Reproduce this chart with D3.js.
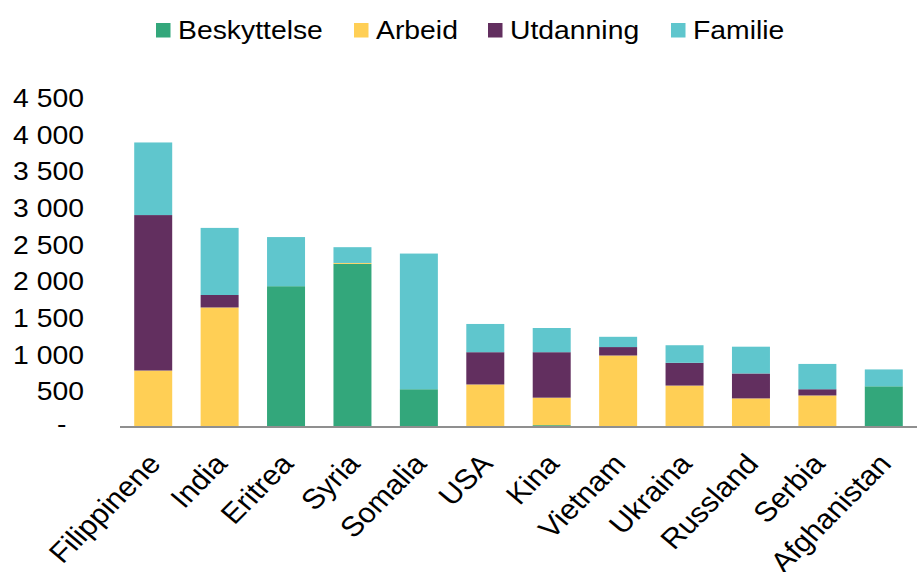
<!DOCTYPE html>
<html>
<head>
<meta charset="utf-8">
<script src="https://cdn.jsdelivr.net/npm/d3@7"></script>
<style>
  body { margin: 0; background: #fff; }
  text { font-family: "Liberation Sans", Arial, sans-serif; fill: #000; }
</style>
</head>
<body>
<script>
// data
const countries = ["Filippinene", "India", "Eritrea", "Syria", "Somalia", "USA", "Kina", "Vietnam", "Ukraina", "Russland", "Serbia", "Afghanistan"];
const seriesNames = ["Beskyttelse", "Arbeid", "Utdanning", "Familie"];
const beskyttelse = [0, 0, 1920, 2225, 515, 0, 25, 0, 0, 10, 0, 555];
const arbeid = [770, 1630, 0, 12, 0, 580, 375, 975, 565, 380, 430, 0];
const utdanning = [2120, 170, 0, 0, 0, 440, 620, 115, 310, 340, 85, 0];
const familie = [990, 915, 670, 215, 1850, 385, 330, 140, 240, 365, 345, 230];
const yTicks = [0, 500, 1000, 1500, 2000, 2500, 3000, 3500, 4000, 4500];
const colors = ["#33a77b", "#ffcf55", "#622f5f", "#5fc6cd"];

const W = 917, H = 572;
const sx = 1.09; // the original text is a bit stretched sideways

const svg = d3.select("body").append("svg")
  .attr("width", W).attr("height", H);

// everything drawn in a horizontally stretched group
const g = svg.append("g").attr("transform", `scale(${sx},1)`);

const table = countries.map((c, i) => ({
  country: c,
  Beskyttelse: beskyttelse[i],
  Arbeid: arbeid[i],
  Utdanning: utdanning[i],
  Familie: familie[i]
}));
const stacked = d3.stack().keys(seriesNames)(table);

const x = d3.scaleBand().domain(countries).range([120 / sx, 917 / sx]).paddingInner(0.428).paddingOuter(0.214);
const y = d3.scaleLinear().domain([0, 4500]).range([427, 97]);
const color = d3.scaleOrdinal().domain(seriesNames).range(colors);

// bars
g.selectAll("g.layer")
  .data(stacked)
  .enter()
  .append("g")
  .attr("class", "layer")
  .attr("fill", d => color(d.key))
  .selectAll("rect")
  .data(d => d)
  .enter()
  .append("rect")
  .attr("x", d => x(d.data.country))
  .attr("width", x.bandwidth())
  .attr("y", d => y(d[1]))
  .attr("height", d => y(d[0]) - y(d[1]));

// y axis (labels only)
const yAxis = d3.axisLeft(y)
  .tickValues(yTicks)
  .tickSize(0)
  .tickPadding(0)
  .tickFormat(v => v === 0 ? "-" : d3.format(",")(v).replace(/,/g, " "));
const ya = g.append("g").attr("transform", `translate(${84 / sx},0)`).call(yAxis);
ya.select(".domain").remove();
ya.selectAll("text")
  .style("font-family", "'Liberation Sans', Arial, sans-serif")
  .attr("font-size", 26)
  .attr("dy", "0.36em")
  .attr("fill", "#000");
ya.selectAll(".tick").filter(d => d === 0).select("text").attr("x", -16).attr("dy", "0.2em");

// x axis
const xAxis = d3.axisBottom(x).tickSize(0).tickPadding(0);
const xa = g.append("g").attr("transform", "translate(0,427)").call(xAxis);
xa.select(".domain").attr("stroke", "#8f8f8f").attr("stroke-width", 2)
  .attr("d", `M${120 / sx},0H${917 / sx}`);
xa.selectAll("text")
  .style("font-family", "'Liberation Sans', Arial, sans-serif")
  .attr("font-size", 28)
  .attr("fill", "#000")
  .attr("text-anchor", "end")
  .attr("dy", 0)
  .attr("y", 0)
  .attr("transform", `translate(${9 / sx},38) rotate(-47.5)`);

// legend
const legendX = [156, 354, 488, 671];
const legend = g.append("g");
seriesNames.forEach((name, i) => {
  legend.append("rect")
    .attr("x", legendX[i] / sx).attr("y", 23)
    .attr("width", 14.5 / sx).attr("height", 14.5)
    .attr("fill", colors[i]);
  legend.append("text")
    .attr("x", (legendX[i] + 22) / sx).attr("y", 39.5)
    .attr("font-size", 26)
    .text(name);
});
</script>
</body>
</html>
